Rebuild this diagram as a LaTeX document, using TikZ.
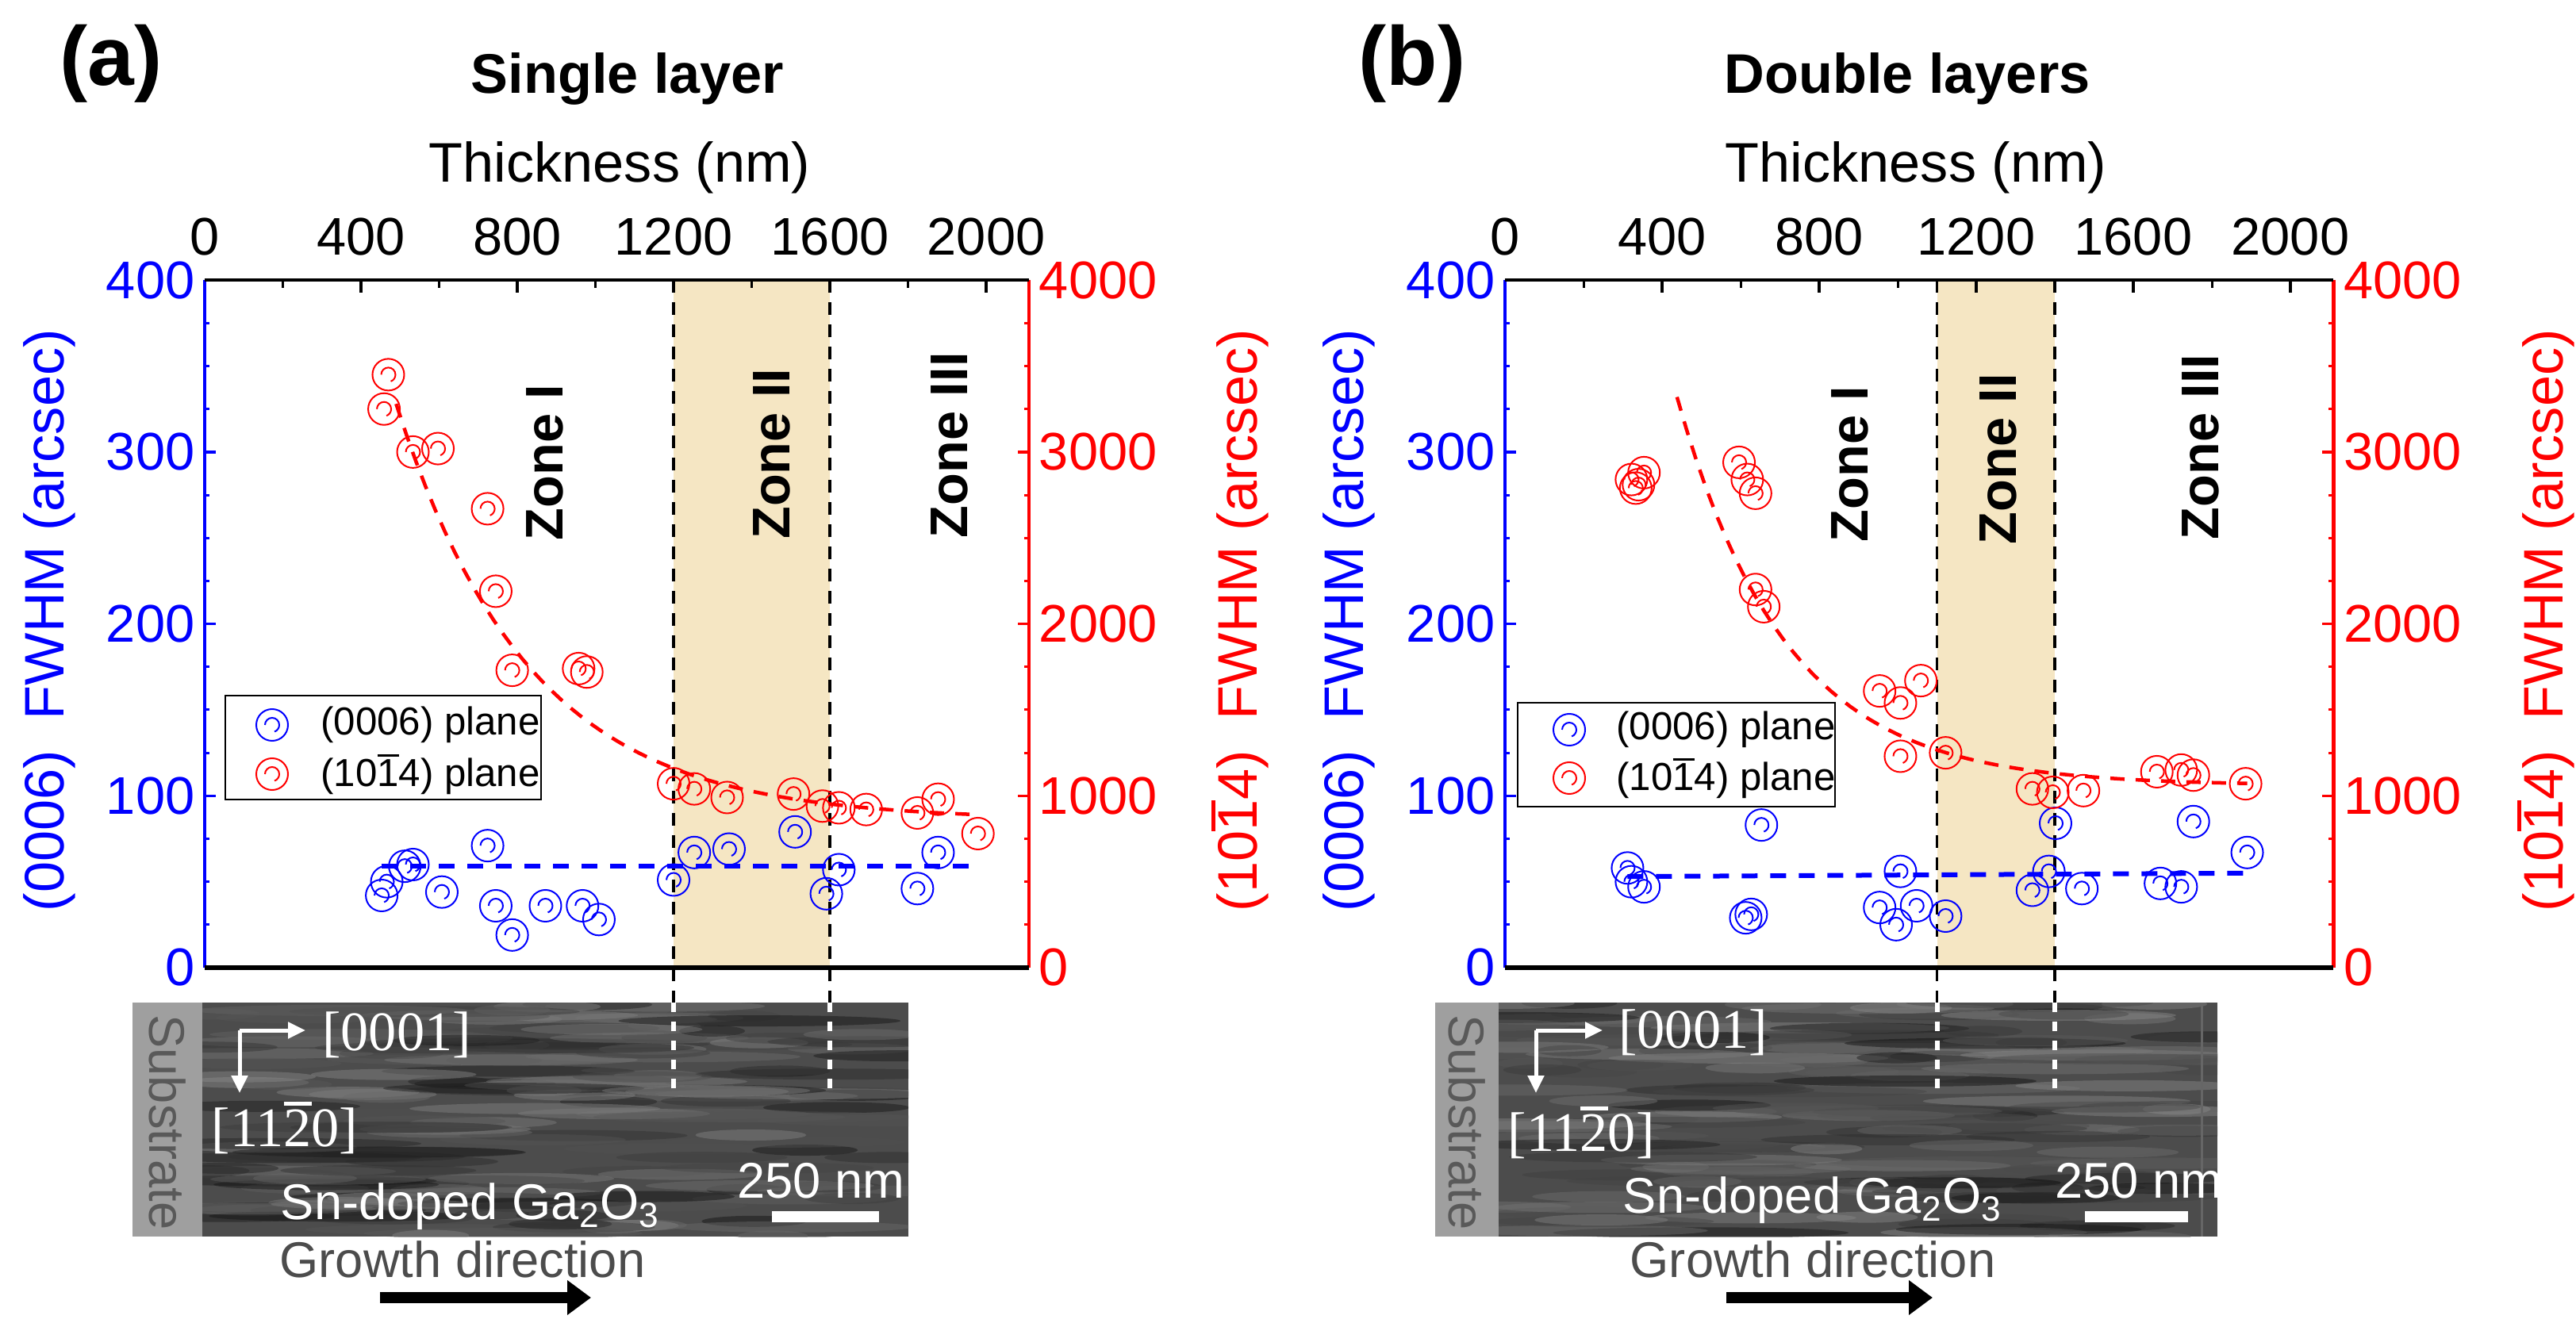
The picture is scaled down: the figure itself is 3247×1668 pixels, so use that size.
\documentclass[tikz,border=0pt]{standalone}
\usepackage{fontspec}
\setmainfont{Liberation Sans}
\newfontfamily\imgserif{Liberation Serif}
\usetikzlibrary{arrows.meta}
\definecolor{zonec}{HTML}{F5E6C3}
\newcommand{\obar}[1]{\leavevmode\vbox{\hrule height 0.07em\kern0.06em\hbox{#1}}}
\newcommand{\fs}[1]{\fontsize{#1}{#1}\selectfont}
\newcommand{\plotframe}[8]{% zone a, zone b, zoneI x, zoneII x, zoneIII x, zI y, zII y, zIII y
  \fill[zonec] (#1,0) rectangle (#2,400);
  \foreach \z in {#1,#2}{
    \draw[dashed, line width=0.35mm, dash pattern=on 1.6mm off 1.2mm] (\z,400) -- (\z,-20.3);
  }
  \foreach \t in {0,400,...,2000}{\draw[line width=0.35mm] (\t,400) -- ++(0,-1.6mm);
    \node[tick, anchor=base, yshift=3.2mm] at (\t,400) {\t};}
  \foreach \t in {200,600,...,1800}{\draw[line width=0.3mm] (\t,400) -- ++(0,-1mm);}
  \foreach \v in {0,100,...,400}{\draw[blue, line width=0.35mm] (0,\v) -- ++(1.4mm,0);
    \node[tick, blue, anchor=east] at (0,\v) {\v};}
  \foreach \v in {25,50,...,375}{\draw[blue, line width=0.3mm] (0,\v) -- ++(0.6mm,0);
    \draw[red, line width=0.3mm] (2110,\v) -- ++(-0.6mm,0);}
  \foreach \v/\l in {0/0,100/1000,200/2000,300/3000,400/4000}{\draw[red, line width=0.35mm] (2110,\v) -- ++(-1.4mm,0);
    \node[tick, red, anchor=west] at (2110,\v) {\l};}
  \draw[blue, line width=0.45mm] (0,0) -- (0,400);
  \draw[red, line width=0.45mm] (2110,0) -- (2110,400);
  \draw[line width=0.45mm] (0,400) -- (2110,400);
  \draw[line width=0.65mm] (0,0) -- (2110,0);
  \node[zl] at (#3,#6) {Zone I};
  \node[zl] at (#4,#7) {Zone II};
  \node[zl] at (#5,#8) {Zone III};
  \node[blue, rotate=90, font=\fs{20}] at (-398,202) {(0006)\ \ FWHM (arcsec)};
  \node[red, rotate=90, font=\fs{20}] at (2650,202) {(10\obar{1}4)\ \ FWHM (arcsec)};
}
\newcommand{\temimg}[4]{% x0, xs (substrate end), x1, seed
  \fill[gray!75] (#1,1264) rectangle (#2,1559);
  \node[rotate=-90, text=black!65, font=\fs{18}] at ({(#1+#2)/2},1415) {Substrate};
  \begin{scope}
  \clip (#2,1264) rectangle (#3,1559);
  \fill[black!70] (#2,1264) rectangle (#3,1559);
  \pgfmathsetseed{#4}
  \foreach \i in {1,...,170}{
    \pgfmathsetmacro\xx{#2+(#3-#2)*rnd}
    \pgfmathsetmacro\yy{1264+295*rnd}
    \pgfmathsetmacro\ll{40+150*rnd}
    \pgfmathsetmacro\gg{45+50*rnd}
    \fill[black!\gg, opacity=0.45] (\xx,\yy) ellipse [x radius=\ll, y radius=7];
  }
  \end{scope}
}
\tikzset{
  tick/.style={font=\fs{19}, inner sep=1.2mm},
  zl/.style={rotate=90, font=\bfseries\fs{19}},
  mk/.pic={\draw[line width=0.2mm] (0,0) circle[radius=2mm];
           \draw[line width=0.2mm] (-0.9mm,0) arc[start angle=180, end angle=-70, radius=0.9mm];},
  wt/.style={text=white},
  wdot/.style={white, line width=0.55mm, dash pattern=on 1.2mm off 1.2mm},
}
\begin{document}
\begin{tikzpicture}[x=0.1mm, y=-0.1mm]
\useasboundingbox (0,0) rectangle (3247,1668);
% ---------- panel (a)
\node[font=\bfseries\fs{30}] (la) at (140,80) {(a)};
\node[font=\bfseries\fs{20}] (ta) at (791,99) {Single layer};
\node[font=\fs{20}] (xa) at (781,211) {Thickness (nm)};
\begin{scope}[shift={(258,1220)}, x=0.04925mm, y=0.2167mm]
  \plotframe{1200}{1600}{871}{1452}{1907}{294}{299}{304}
  \draw[blue, line width=0.6mm, dash pattern=on 2mm off 1.6mm] (453,59) -- (1985,59);
  \draw[red, line width=0.45mm, dash pattern=on 1.8mm off 1.4mm, domain=490:1960, samples=60]
     plot (\x, {86+242*exp(-(\x-490)/340)});
  \foreach \x/\y in {453/42,466/50,512/59,533/60,607/44,724/71,745/36,787/19,872/36,967/36,1009/28,1200/51,1253/67,1342/69,1511/79,1591/43,1623/57,1824/46,1877/67}
    \pic[blue] at (\x,\y) {mk};
  \foreach \x/\y in {470/345,459/325,533/300,597/302,724/267,745/219,787/173,957/174,978/172,1200/107,1253/104,1337/99,1507/101,1581/94,1623/93,1693/92,1824/90,1877/98,1979/78}
    \pic[red] at (\x,\y) {mk};
\end{scope}
\draw[line width=0.25mm] (284,877) rectangle (682,1008);
\pic[blue] at (343,914) {mk};
\pic[red] at (343,976) {mk};
\node[anchor=west, font=\fs{14}] (lga1) at (392,914) {(0006) plane};
\node[anchor=west, font=\fs{14}] (lga2) at (392,976) {(10\obar{1}4) plane};
\temimg{167}{255}{1145}{7}
\draw[wdot] (849,1264) -- (849,1379);
\draw[wdot] (1046,1264) -- (1046,1379);
\draw[white, line width=0.5mm, -{Triangle[length=2.2mm,width=2mm]}] (302,1299) -- (385,1299);
\draw[white, line width=0.5mm, -{Triangle[length=2.2mm,width=2mm]}] (302,1299) -- (302,1378);
\node[wt, font=\imgserif\fs{20}] (da1) at (500,1305) {[0001]};
\node[wt, font=\imgserif\fs{20}] (da2) at (359,1422) {[11\obar{2}0]};
\node[wt, font=\fs{18}] (sa) at (1035,1489) {250 nm};
\fill[white] (973,1527) rectangle (1108,1541);
\node[wt, font=\fs{18}] (ga) at (593,1521) {Sn-doped Ga\textsubscript{2}O\textsubscript{3}};
\node[text=black!70, font=\fs{18}] (gra) at (583,1588) {Growth direction};
\coordinate (aa1) at (479,1636); \coordinate (aa2) at (745,1636);
\draw[line width=1.4mm, -{Triangle[length=3mm,width=4.2mm]}] (aa1) -- (aa2);
% ---------- panel (b)
\node[font=\bfseries\fs{30}] (lb) at (1780,80) {(b)};
\node[font=\bfseries\fs{20}] (tb) at (2404,99) {Double layers};
\node[font=\fs{20}] (xb) at (2415,211) {Thickness (nm)};
\begin{scope}[shift={(1897,1220)}, x=0.0495mm, y=0.2167mm]
  \plotframe{1100}{1400}{879}{1257}{1772}{293}{296}{303}
  \draw[blue, line width=0.6mm, dash pattern=on 2mm off 1.6mm] (312,53) -- (1880,55);
  \draw[red, line width=0.45mm, dash pattern=on 1.8mm off 1.4mm, domain=438:1890, samples=60]
     plot (\x, {106+226*exp(-(\x-438)/277)});
  \foreach \x/\y in {312/58,322/50,354/47,653/83,613/29,627/31,954/35,1007/56,996/25,1048/36,1122/30,1343/45,1385/56,1402/84,1469/46,1669/49,1722/47,1753/85,1890/67}
    \pic[blue] at (\x,\y) {mk};
  \foreach \x/\y in {322/284,333/279,354/288,340/281,596/294,617/284,638/276,638/220,659/210,954/161,1007/154,1059/167,1007/123,1122/125,1343/104,1395/102,1473/103,1660/114,1722/115,1753/112,1886/107}
    \pic[red] at (\x,\y) {mk};
\end{scope}
\draw[line width=0.25mm] (1913,886) rectangle (2313,1017);
\pic[blue] at (1978,920) {mk};
\pic[red] at (1978,981) {mk};
\node[anchor=west, font=\fs{14}] (lgb1) at (2025,920) {(0006) plane};
\node[anchor=west, font=\fs{14}] (lgb2) at (2025,981) {(10\obar{1}4) plane};
\temimg{1809}{1889}{2795}{11}
\draw[wdot] (2442,1264) -- (2442,1379);
\draw[wdot] (2590,1264) -- (2590,1379);
\draw[black!60, line width=0.3mm] (2775,1264) -- (2775,1559);
\draw[white, line width=0.5mm, -{Triangle[length=2.2mm,width=2mm]}] (1936,1299) -- (2020,1299);
\draw[white, line width=0.5mm, -{Triangle[length=2.2mm,width=2mm]}] (1936,1299) -- (1936,1378);
\node[wt, font=\imgserif\fs{20}] (db1) at (2134,1302) {[0001]};
\node[wt, font=\imgserif\fs{20}] (db2) at (1993,1428) {[11\obar{2}0]};
\node[wt, font=\fs{18}] (sb) at (2696,1489) {250 nm};
\fill[white] (2628,1527) rectangle (2758,1541);
\node[wt, font=\fs{18}] (gb) at (2285,1513) {Sn-doped Ga\textsubscript{2}O\textsubscript{3}};
\node[text=black!70, font=\fs{18}] (grb) at (2285,1588) {Growth direction};
\coordinate (ab1) at (2176,1636); \coordinate (ab2) at (2436,1636);
\draw[line width=1.4mm, -{Triangle[length=3mm,width=4.2mm]}] (ab1) -- (ab2);
\end{tikzpicture}
\end{document}
